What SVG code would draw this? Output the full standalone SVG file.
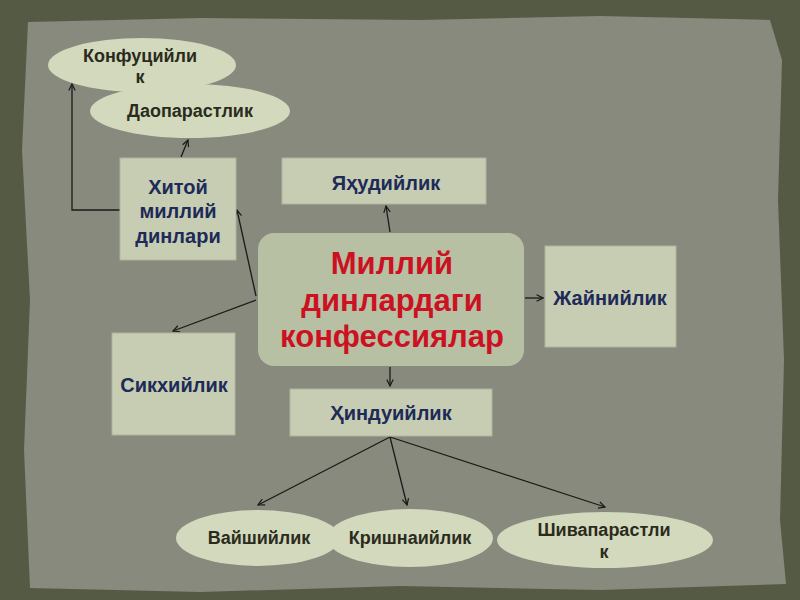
<svg xmlns="http://www.w3.org/2000/svg" width="800" height="600" viewBox="0 0 800 600">
<defs>
<marker id="ah" viewBox="0 0 10 10" refX="9" refY="5" markerWidth="8" markerHeight="8" orient="auto" markerUnits="userSpaceOnUse">
<path d="M1,1 L9,5 L1,9" fill="none" stroke="#1a1a1a" stroke-width="1.5"/>
</marker>
<style>
.bg{fill:#555a45}
.paper{fill:#878a7d}
.box{fill:#c6cdb2;stroke:#b0b69e;stroke-width:1}
.ell{fill:#d2d9bd}
.ctr{fill:#b7c0a3}
.lt{font-family:"Liberation Sans",Arial,sans-serif;font-weight:bold;font-size:18px;fill:#2b2b1c;text-anchor:middle}
.bt{font-family:"Liberation Sans",Arial,sans-serif;font-weight:bold;font-size:20px;fill:#1e2a58;text-anchor:middle}
.ct{font-family:"Liberation Sans",Arial,sans-serif;font-weight:bold;font-size:31px;fill:#cc1122;text-anchor:middle}
.cn{fill:none;stroke:#1a1a1a;stroke-width:1.3}
</style>
</defs>
<rect class="bg" x="0" y="0" width="800" height="600"/>
<polygon class="paper" points="28,22 200,18 420,20 600,16 770,20 782,60 778,200 784,360 780,520 786,584 600,590 400,586 200,592 30,588 24,450 30,300 22,150"/>
<g id="connectors">
<polyline class="cn" points="120,210 72,210 72,84" marker-end="url(#ah)"/>
<line class="cn" x1="181" y1="157" x2="188" y2="140" marker-end="url(#ah)"/>
<line class="cn" x1="256" y1="296" x2="237" y2="210" marker-end="url(#ah)"/>
<line class="cn" x1="256" y1="300" x2="173" y2="331" marker-end="url(#ah)"/>
<line class="cn" x1="390" y1="232" x2="386" y2="206" marker-end="url(#ah)"/>
<line class="cn" x1="525" y1="298" x2="543" y2="298" marker-end="url(#ah)"/>
<line class="cn" x1="390" y1="367" x2="390" y2="386" marker-end="url(#ah)"/>
<line class="cn" x1="390" y1="437" x2="258" y2="505" marker-end="url(#ah)"/>
<line class="cn" x1="390" y1="437" x2="407" y2="505" marker-end="url(#ah)"/>
<line class="cn" x1="390" y1="437" x2="605" y2="507" marker-end="url(#ah)"/>
</g>
<g id="konfutsiylik">
<ellipse class="ell" cx="142" cy="65" rx="94" ry="27"/>
<text class="lt" x="140" y="62">Конфуцийли</text>
<text class="lt" x="140" y="83">к</text>
</g>
<g id="daoparastlik">
<ellipse class="ell" cx="190" cy="111" rx="100" ry="27"/>
<text class="lt" x="190" y="117">Даопарастлик</text>
</g>
<g id="xitoy">
<rect class="box" x="120" y="158" width="116" height="102"/>
<text class="bt" x="178" y="194">Хитой</text>
<text class="bt" x="178" y="218">миллий</text>
<text class="bt" x="178" y="243">динлари</text>
</g>
<g id="yahudiylik">
<rect class="box" x="282" y="158" width="204" height="46"/>
<text class="bt" x="386" y="190">Яҳудийлик</text>
</g>
<g id="markaz">
<rect class="ctr" x="258" y="233" width="266" height="133" rx="16"/>
<text class="ct" x="392" y="274">Миллий</text>
<text class="ct" x="392" y="311">динлардаги</text>
<text class="ct" x="392" y="347">конфессиялар</text>
</g>
<g id="jaynilik">
<rect class="box" x="545" y="246" width="131" height="101"/>
<text class="bt" x="610" y="305">Жайнийлик</text>
</g>
<g id="sikhiylik">
<rect class="box" x="112" y="333" width="123" height="102"/>
<text class="bt" x="174" y="392">Сикхийлик</text>
</g>
<g id="hinduiylik">
<rect class="box" x="290" y="389" width="202" height="47"/>
<text class="bt" x="391" y="420">Ҳиндуийлик</text>
</g>
<g id="vayshiylik">
<ellipse class="ell" cx="258" cy="538" rx="82" ry="28"/>
<text class="lt" x="259" y="544">Вайшийлик</text>
</g>
<g id="krishnaiylik">
<ellipse class="ell" cx="410" cy="538" rx="83" ry="29"/>
<text class="lt" x="410" y="544">Кришнаийлик</text>
</g>
<g id="shivaparastlik">
<ellipse class="ell" cx="605" cy="540" rx="108" ry="28"/>
<text class="lt" x="604" y="536">Шивапарастли</text>
<text class="lt" x="604" y="558">к</text>
</g>
</svg>
